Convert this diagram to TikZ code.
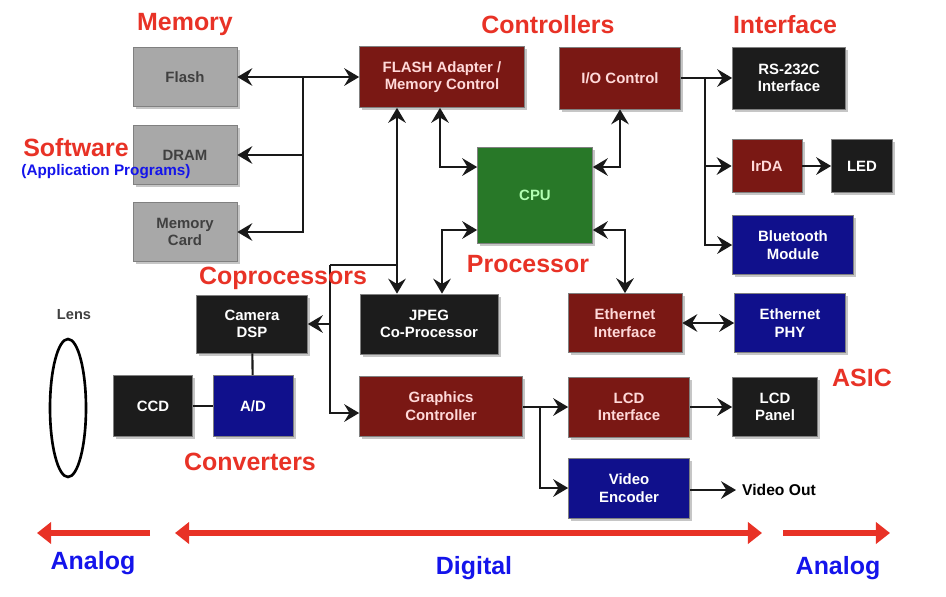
\documentclass[tikz,border=0pt]{standalone}
\usepackage{fontspec}
\setmainfont{Liberation Sans}
\usetikzlibrary{arrows.meta,shadows}
\definecolor{lblred}{RGB}{232,50,38}
\definecolor{lblblue}{RGB}{20,20,235}
\definecolor{boxred}{RGB}{122,24,20}
\definecolor{boxblue}{RGB}{16,16,140}
\definecolor{boxgreen}{RGB}{40,120,40}
\definecolor{boxgray}{RGB}{168,168,168}
\definecolor{boxblack}{RGB}{28,28,28}

\begin{document}
\begin{tikzpicture}[x=0.02cm, y=-0.02cm,
  sz/.style 2 args={minimum width=#1cm, minimum height=#2cm},
  box/.style={draw=black!50, line width=0.4pt, align=center, inner sep=1pt,
    font=\bfseries\fontsize{8.5}{10}\selectfont,
    drop shadow={shadow xshift=1.6pt, shadow yshift=-1.6pt, opacity=0.45}},
  membox/.style={box, fill=boxgray, text=black!75},
  ctlbox/.style={box, fill=boxred, text=white!85!red},
  blkbox/.style={box, fill=boxblack, text=white!85},
  bluebox/.style={box, fill=boxblue, text=white!85},
  cpubox/.style={box, fill=boxgreen, text=green!30!white},
  grp/.style={text=lblred, font=\bfseries\fontsize{14.2}{16}\selectfont},
  side/.style={text=lblblue, font=\bfseries\fontsize{14.2}{16}\selectfont},
  wire/.style={line width=1.5pt, black!90},
  arr/.style={wire, -{Stealth[length=8.5pt, width=10pt, inset=3pt]}},
  dbl/.style={wire, {Stealth[length=8.5pt, width=10pt, inset=3pt]}-{Stealth[length=8.5pt, width=10pt, inset=3pt]}},
  bigarr/.style={line width=3pt, lblred, -{Triangle[length=8pt, width=12pt]}},
  bigdbl/.style={line width=3pt, lblred, {Triangle[length=8pt, width=12pt]}-{Triangle[length=8pt, width=12pt]}}]
\useasboundingbox (0,0) rectangle (946,596);

\node[membox, sz={2.08}{1.18}] (flash) at (185,77) {Flash};
\node[membox, sz={2.08}{1.18}] (dram) at (185,155) {DRAM};
\node[membox, sz={2.08}{1.18}] (card) at (185,232) {Memory\\Card};
\node[ctlbox, sz={3.3}{1.22}] (fladp) at (442,77) {FLASH Adapter /\\Memory Control};
\node[ctlbox, sz={2.42}{1.24}] (ioc) at (620,78) {I/O Control};
\node[cpubox, sz={2.3}{1.92}] (cpu) at (535,195) {CPU};
\node[blkbox, sz={2.26}{1.24}] (rs) at (789,78) {RS-232C\\Interface};
\node[ctlbox, sz={1.4}{1.06}] (irda) at (767,166) {IrDA};
\node[blkbox, sz={1.22}{1.06}] (led) at (862,166) {LED};
\node[bluebox, sz={2.42}{1.18}] (bt) at (793,245) {Bluetooth\\Module};
\node[blkbox, sz={2.22}{1.16}] (dsp) at (252,324) {Camera\\DSP};
\node[blkbox, sz={1.58}{1.22}] (ccd) at (153,406) {CCD};
\node[bluebox, sz={1.6}{1.22}] (ad) at (253,406) {A/D};
\node[blkbox, sz={2.76}{1.2}] (jpeg) at (429,324) {JPEG\\Co-Processor};
\node[ctlbox, sz={3.26}{1.2}] (gfx) at (441,406) {Graphics\\Controller};
\node[ctlbox, sz={2.28}{1.18}] (ethif) at (625,323) {Ethernet\\Interface};
\node[bluebox, sz={2.22}{1.18}] (ethphy) at (790,323) {Ethernet\\PHY};
\node[ctlbox, sz={2.42}{1.2}] (lcdif) at (629,407) {LCD\\Interface};
\node[blkbox, sz={1.7}{1.18}] (lcdp) at (775,407) {LCD\\Panel};
\node[bluebox, sz={2.42}{1.2}] (venc) at (629,488) {Video\\Encoder};
\node[font=\bfseries\fontsize{8.9}{10}\selectfont, anchor=west] (vout) at (736,490) {Video Out};
\node[font=\bfseries\fontsize{8.3}{10}\selectfont, text=black!75] (lens) at (74,315) {Lens};
\draw[line width=1.5pt] (68,408) ellipse [x radius=0.36cm, y radius=1.38cm];

\coordinate (mbus) at (303,77);
\coordinate (jbus) at (397,265);
\coordinate (cbus) at (330,265);
\coordinate (iobus) at (705,78);
\coordinate (gbus) at (540,406);

\draw[dbl] (flash) -- (fladp);
\draw[arr] (mbus) |- (card);
\draw[arr] (mbus |- dram) -- (dram);
\draw[dbl] ([xshift=-0.04cm]fladp.south) |- ([yshift=0.56cm]cpu.west);
\draw[dbl] (fladp.south -| jbus) -- (jpeg.north -| jbus);
\draw[wire] (jbus) -- (cbus);
\draw[arr] (cbus) |- ([yshift=-0.14cm]gfx.west);
\draw[arr] (cbus |- dsp) -- (dsp);
\draw[dbl] ([yshift=-0.7cm]cpu.west) -| ([xshift=0.26cm]jpeg.north);
\draw[dbl] (ioc.south) |- ([yshift=0.56cm]cpu.east);
\draw[dbl] ([yshift=-0.7cm]cpu.east) -| (ethif.north);
\draw[arr] (ioc) -- (rs);
\draw[arr] (iobus) |- (bt);
\draw[arr] (iobus |- irda) -- (irda);
\draw[arr] (irda) -- (led);
\draw[dbl] (ethif) -- (ethphy);
\draw[arr] (gfx.east |- lcdif) -- (lcdif);
\draw[arr] (gbus) |- (venc);
\draw[arr] (lcdif) -- (lcdp);
\draw[arr] (venc.east |- vout) -- (vout);
\draw[wire, line width=1.2pt] (dsp) -- (ad);
\draw[wire, line width=1.2pt] (ccd) -- (ad);

\node[grp] (memlbl) at (185,25) {Memory};
\node[grp] (ctllbl) at (548,25) {Controllers};
\node[grp] (iflbl) at (785,25) {Interface};
\node[grp] (swlbl) at (76,148) {Software};
\node[text=lblblue, font=\bfseries\fontsize{8.7}{10}\selectfont] (applbl) at (106,172) {(Application Programs)};
\node[grp] (coplbl) at (283,278) {Coprocessors};
\node[grp] (proclbl) at (528,264) {Processor};
\node[grp] (asiclbl) at (862,378) {ASIC};
\node[grp] (convlbl) at (250,462) {Converters};

\draw[bigarr] (150,533) -- (37,533);
\draw[bigdbl] (175,533) -- (762,533);
\draw[bigarr] (783,533) -- (890,533);
\node[side] (analogl) at (93,563) {Analog};
\node[side] (digital) at (474,568) {Digital};
\node[side] (analogr) at (838,568) {Analog};
\end{tikzpicture}
\end{document}
